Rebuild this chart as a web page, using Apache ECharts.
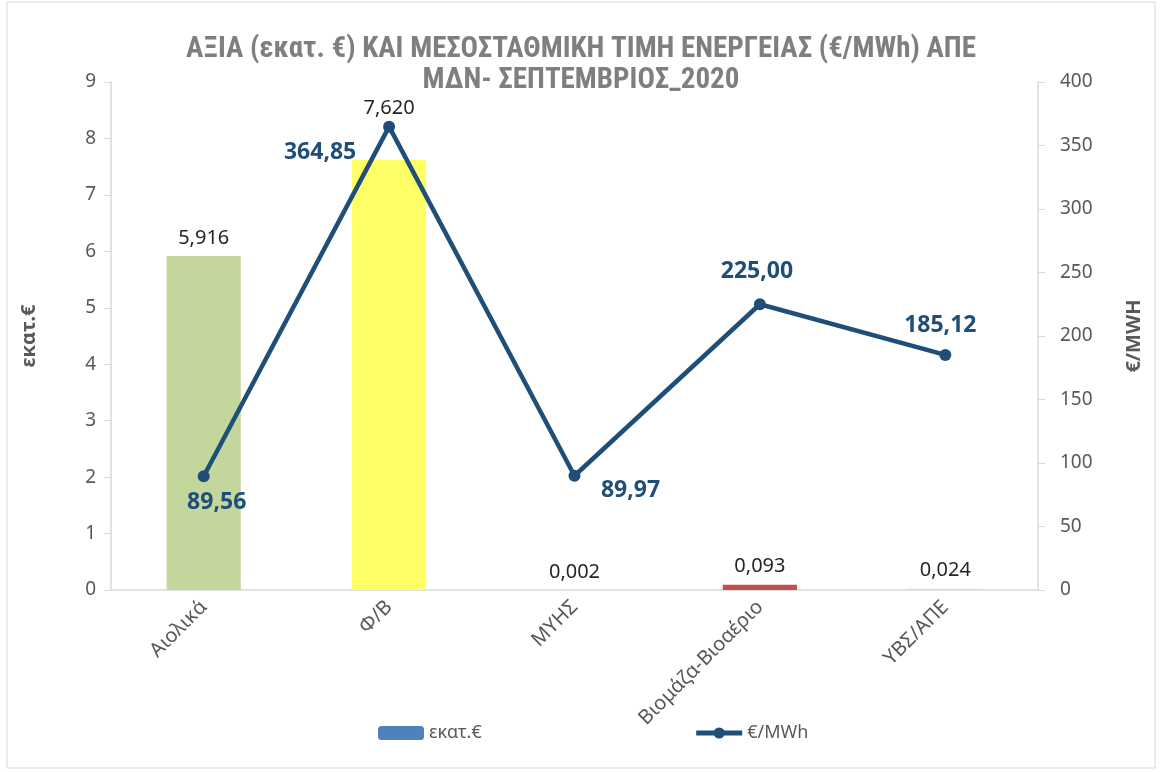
<!DOCTYPE html>
<html>
<head>
<meta charset="utf-8">
<script src="https://cdn.jsdelivr.net/npm/echarts@6/dist/echarts.min.js"></script>
<style>
  html, body { margin: 0; padding: 0; background: #fff; }
  #chart { width: 1162px; height: 772px; }
</style>
</head>
<body>
<div id="chart"></div>
<script>
// values
var categories = ['Αιολικά', 'Φ/Β', 'ΜΥΗΣ', 'Βιομάζα-Βιοαέριο', 'ΥΒΣ/ΑΠΕ'];
var valueMillions = [5.916, 7.620, 0.002, 0.093, 0.024];
var pricePerMWh = [89.56, 364.85, 89.97, 225.00, 185.12];

// per-item styling
var barColors = ['#c3d69b', '#ffff66', '#4f81bd', '#c0504d', '#fbd4b4'];
var barLabelDist = [8, 42, 8, 8, 8];
var lineLabelOffsets = [[13, 26], [-69, 26], [56, 15], [-3, -33], [-5, -29]];

var font = '"Noto Sans", "Open Sans", sans-serif';

var myChart = echarts.init(document.getElementById('chart'));

var option = {
    backgroundColor: '#fff',
    animation: false,
    title: {
        text: 'ΑΞΙΑ (εκατ. €) ΚΑΙ ΜΕΣΟΣΤΑΘΜΙΚΗ ΤΙΜΗ ΕΝΕΡΓΕΙΑΣ (€/MWh) ΑΠΕ\nΜΔΝ- ΣΕΠΤΕΜΒΡΙΟΣ_2020',
        left: 'center',
        top: 29,
        textStyle: {
            color: '#7f7f7f',
            fontFamily: '"Liberation Sans Narrow", "Roboto Condensed", ' + font,
            fontWeight: 'bold',
            fontSize: 29,
            lineHeight: 31
        }
    },
    graphic: [{
        type: 'rect',
        shape: { x: 7, y: 2, width: 1148, height: 766 },
        style: { fill: 'none', stroke: '#d9d9d9', lineWidth: 1 }
    }],
    legend: {
        bottom: 25,
        left: 373,
        itemGap: 212,
        itemWidth: 46,
        itemHeight: 14,
        textStyle: { color: '#595959', fontSize: 18, fontFamily: font },
        data: [
            { name: 'εκατ.€', itemStyle: { color: '#4f81bd' } },
            { name: '€/MWh', lineStyle: { width: 5 } }
        ]
    },
    grid: {
        left: 111,
        right: 124,
        top: 82,
        bottom: 182
    },
    xAxis: {
        type: 'category',
        data: categories,
        axisLine: { lineStyle: { color: '#d9d9d9', width: 1.5 } },
        axisTick: { show: false },
        axisLabel: {
            rotate: 45,
            color: '#595959',
            fontSize: 20,
            fontFamily: font,
            margin: 14
        }
    },
    yAxis: [{
        type: 'value',
        min: 0,
        max: 9,
        interval: 1,
        name: 'εκατ.€',
        nameLocation: 'middle',
        nameGap: 72,
        nameTextStyle: { color: '#595959', fontSize: 20, fontWeight: 'bold', fontFamily: font },
        axisLine: { show: true, lineStyle: { color: '#d9d9d9', width: 1.5 } },
        axisTick: { show: true, length: 7, lineStyle: { color: '#d9d9d9' } },
        splitLine: { show: false },
        axisLabel: { color: '#595959', fontSize: 19, fontFamily: font, margin: 15 }
    }, {
        type: 'value',
        min: 0,
        max: 400,
        interval: 50,
        name: '€/MWH',
        nameLocation: 'middle',
        nameGap: 86,
        nameRotate: 90,
        nameTextStyle: { color: '#595959', fontSize: 20, fontWeight: 'bold', fontFamily: font },
        axisLine: { show: true, lineStyle: { color: '#d9d9d9', width: 1.5 } },
        axisTick: { show: true, length: 7, lineStyle: { color: '#d9d9d9' } },
        splitLine: { show: false },
        axisLabel: { color: '#595959', fontSize: 19, fontFamily: font, margin: 22 }
    }],
    series: [{
        name: 'εκατ.€',
        type: 'bar',
        yAxisIndex: 0,
        barWidth: '40%',
        data: valueMillions.map(function (v, i) {
            return {
                value: v,
                itemStyle: { color: barColors[i] },
                label: { distance: barLabelDist[i] }
            };
        }),
        label: {
            show: true,
            position: 'top',
            color: '#262626',
            fontSize: 20,
            fontFamily: font,
            formatter: function (p) {
                return p.value.toFixed(3).replace('.', ',');
            }
        }
    }, {
        name: '€/MWh',
        type: 'line',
        yAxisIndex: 1,
        symbol: 'circle',
        symbolSize: 12,
        z: 5,
        lineStyle: { color: '#1f4e79', width: 4.5 },
        itemStyle: { color: '#1f4e79' },
        data: pricePerMWh.map(function (v, i) {
            return {
                value: v,
                label: { offset: lineLabelOffsets[i] }
            };
        }),
        label: {
            show: true,
            position: 'inside',
            color: '#1f4e79',
            fontSize: 23,
            fontWeight: 'bold',
            fontFamily: font,
            formatter: function (p) {
                return p.value.toFixed(2).replace('.', ',');
            }
        }
    }]
};

myChart.setOption(option);
</script>
</body>
</html>
